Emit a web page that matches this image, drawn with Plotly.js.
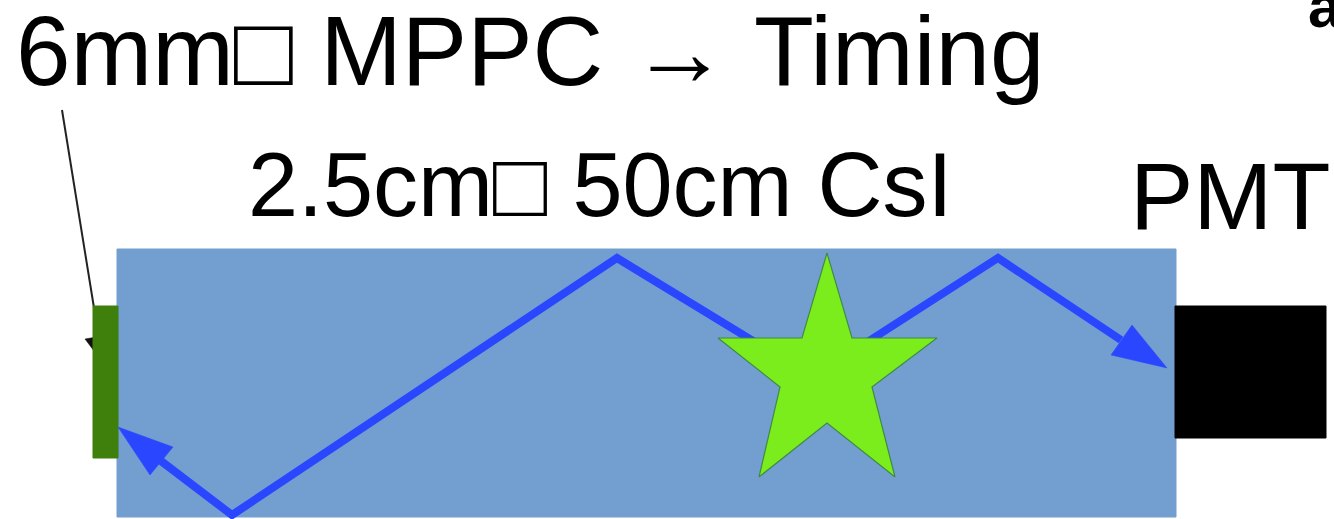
<!DOCTYPE html>
<html>
<head>
<meta charset="utf-8">
<script src="https://cdn.plot.ly/plotly-3.0.1.min.js"></script>
<style>html,body{margin:0;padding:0;background:#fff;overflow:hidden}#chart{width:1334px;height:519px}</style>
</head>
<body>
<div id="chart"></div>
<script>
// ---- diagram geometry (pixel space of the 1334x519 canvas) ----
const crystalX = [117, 1176, 1176, 117, 117];
const crystalY = [249, 249, 517, 517, 249];
const mppcX = [93, 118, 118, 93, 93];
const mppcY = [306, 306, 458, 458, 306];
const pmtX = [1175, 1326, 1326, 1175, 1175];
const pmtY = [306, 306, 438, 438, 306];
const starX = [827, 852, 937, 872, 895, 827, 759, 780, 718, 802, 827];
const starY = [253, 338, 338, 387, 477, 423, 477, 387, 338, 338, 253];
const rayLeftX = [827, 617, 232, 161];
const rayLeftY = [386, 258, 515, 461];
const rayRightX = [827, 998, 1121];
const rayRightY = [368, 258, 340];
const headLeftX = [118, 173, 150, 118];
const headLeftY = [427, 447, 475, 427];
const headRightX = [1167, 1132, 1111, 1167];
const headRightY = [368, 325, 355, 368];
const pointerX = [62, 100];
const pointerY = [110, 345];
const pointerHeadX = [103, 85, 113, 103];
const pointerHeadY = [363, 339, 334, 363];
const labels = ["6mm\u25A1 MPPC \u2192 Timing", "2.5cm\u25A1 50cm CsI", "PMT", "a)"];

const BLUE = "#2b46ff";
function poly(x, y, fill, line, lw) {
  return {x: x, y: y, type: "scatter", mode: "lines", fill: "toself",
    fillcolor: fill, line: {color: line || fill, width: lw || 0.5}, hoverinfo: "skip", showlegend: false};
}
function path(x, y, color, w) {
  return {x: x, y: y, type: "scatter", mode: "lines",
    line: {color: color, width: w}, hoverinfo: "skip", showlegend: false};
}
const traces = [
  path(pointerX, pointerY, "#222222", 2),
  poly(pointerHeadX, pointerHeadY, "#111111"),
  poly(crystalX, crystalY, "#729fcf", "#729fcf", 1),
  poly(mppcX, mppcY, "#3f7f0c", "#3f7f0c", 1),
  poly(pmtX, pmtY, "#000000", "#000000", 1),
  path(rayLeftX, rayLeftY, BLUE, 8),
  path(rayRightX, rayRightY, BLUE, 8),
  poly(headLeftX, headLeftY, BLUE),
  poly(headRightX, headRightY, BLUE),
  poly(starX, starY, "#7bec1c", "#3f8a4a", 1.2)
];
const F = "Liberation Sans, Arial, sans-serif";
const layout = {
  width: 1334, height: 519,
  margin: {l: 0, r: 0, t: 0, b: 0, pad: 0},
  paper_bgcolor: "#ffffff", plot_bgcolor: "#ffffff",
  xaxis: {range: [0, 1334], visible: false, fixedrange: true},
  yaxis: {range: [519, 0], visible: false, fixedrange: true},
  showlegend: false,
  annotations: [
    {x: 14, y: 51, xref: "x", yref: "y", text: labels[0], showarrow: false, xanchor: "left", yanchor: "middle", font: {family: F, size: 98, color: "#000"}},
    {x: 246, y: 185, xref: "x", yref: "y", text: labels[1], showarrow: false, xanchor: "left", yanchor: "middle", font: {family: F, size: 90, color: "#000"}},
    {x: 1128, y: 196, xref: "x", yref: "y", text: labels[2], showarrow: false, xanchor: "left", yanchor: "middle", font: {family: F, size: 95, color: "#000"}},
    {x: 1306, y: 6, xref: "x", yref: "y", text: "<b>" + labels[3] + "</b>", showarrow: false, xanchor: "left", yanchor: "middle", font: {family: F, size: 60, color: "#000"}}
  ]
};
Plotly.newPlot("chart", traces, layout, {staticPlot: true, displayModeBar: false});
</script>
</body>
</html>
